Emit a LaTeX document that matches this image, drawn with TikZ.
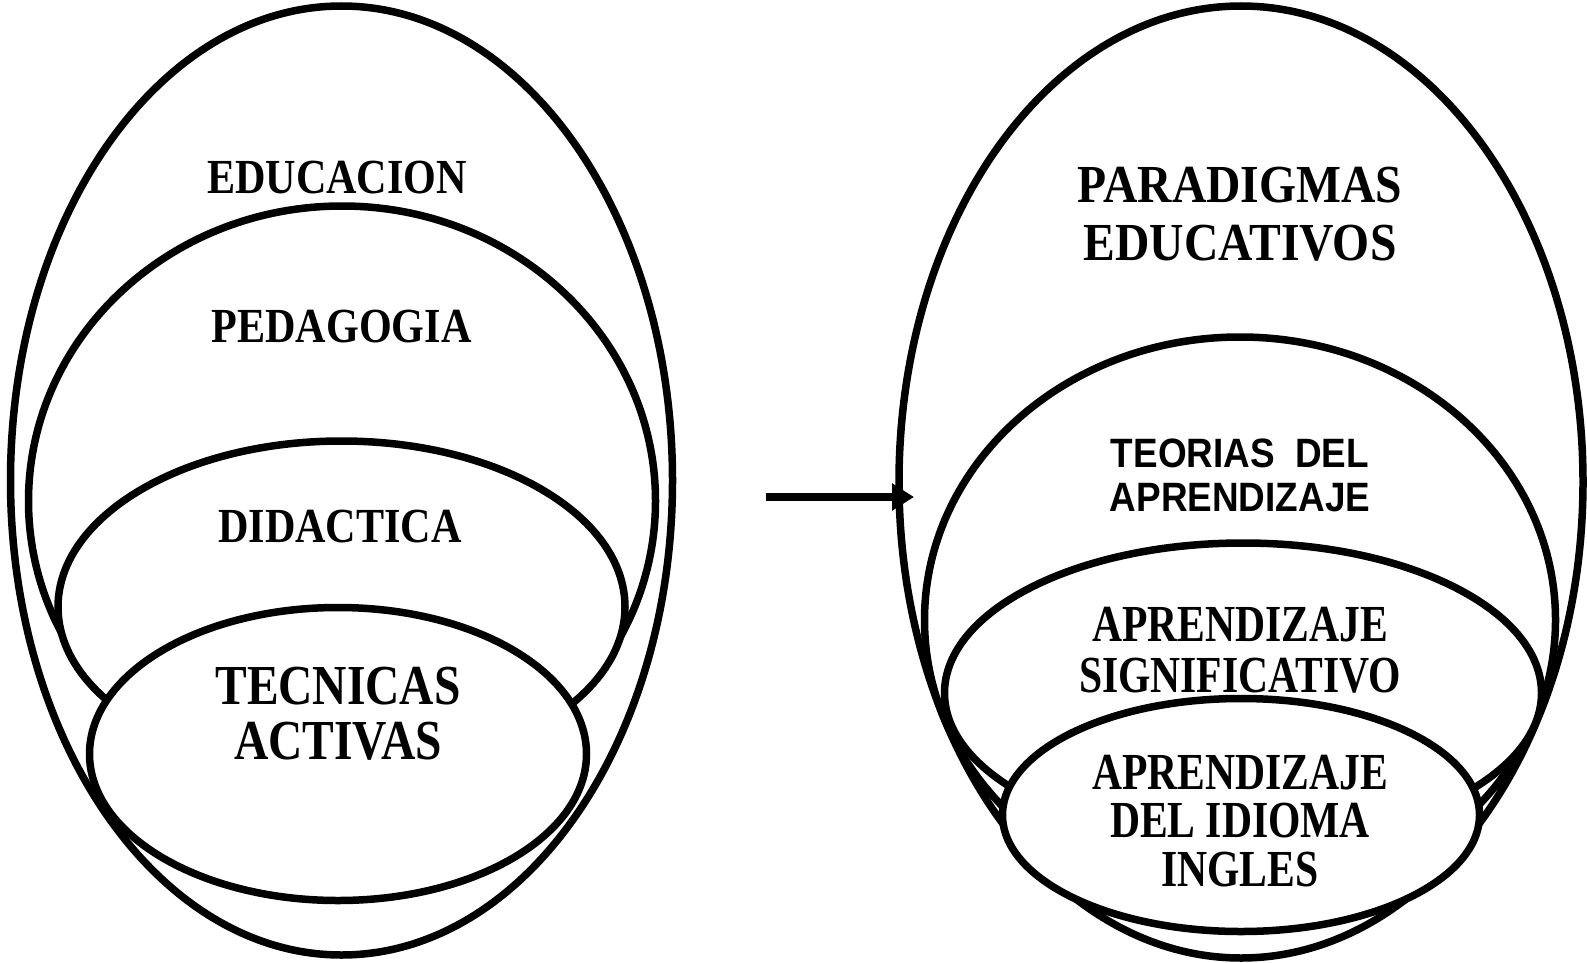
\documentclass[tikz,border=0pt]{standalone}
\usepackage{fontspec}
\setmainfont{Liberation Serif}
\newfontfamily\serifA[FakeStretch=0.86]{Liberation Serif}
\newfontfamily\serifB[FakeStretch=0.84]{Liberation Serif}
\newfontfamily\serifC[FakeStretch=0.89]{Liberation Serif}
\newfontfamily\serifD[FakeStretch=0.80]{Liberation Serif}
\newfontfamily\sansA[FakeStretch=0.90]{Liberation Sans}
\usetikzlibrary{shapes.geometric,arrows.meta}
\tikzset{
  oval/.style={ellipse, draw=black, fill=white, line width=7.5pt, inner sep=0pt},
  lbl/.style={align=center, inner sep=0pt, text=black}
}
\begin{document}
\begin{tikzpicture}[x=1pt,y=-1pt]
\useasboundingbox (0,0) rectangle (1587,963);
% left
\node[oval, minimum width=662pt, minimum height=949pt] (outerL) at (341.5,480.5) {};
\node[oval, minimum width=627pt, minimum height=590pt] (pedL) at (342,501) {};
\node[oval, minimum width=567pt, minimum height=332pt] (didL) at (341.5,607) {};
\node[oval, minimum width=497pt, minimum height=293pt] (tecL) at (338,754) {};
\node[lbl, font=\serifA\bfseries\fontsize{49}{58}\selectfont] (tEdu) at (337,178) {EDUCACION};
\node[lbl, font=\serifA\bfseries\fontsize{49}{58}\selectfont] (tPed) at (341.5,327) {PEDAGOGIA};
\node[lbl, font=\serifA\bfseries\fontsize{49}{58}\selectfont] (tDid) at (340,527) {DIDACTICA};
\node[lbl, font=\serifB\bfseries\fontsize{56.5}{55}\selectfont] (tTec) at (338,713.5) {TECNICAS\\ACTIVAS};
% right
\node[oval, minimum width=684pt, minimum height=952pt] (outerR) at (1241,482) {};
\node[oval, minimum width=631pt, minimum height=566pt] (teoR) at (1240,620) {};
\node[oval, minimum width=597pt, minimum height=300pt] (sigR) at (1243,693) {};
\node[oval, minimum width=477pt, minimum height=233pt] (idiR) at (1241,815) {};
\node[lbl, font=\serifC\bfseries\fontsize{53.5}{58}\selectfont] (tPar) at (1240,214) {PARADIGMAS\\EDUCATIVOS};
\node[lbl, font=\sansA\bfseries\fontsize{41}{44}\selectfont] (tTeo) at (1240,475) {TEORIAS\ \ DEL\\APRENDIZAJE};
\node[lbl, font=\serifD\bfseries\fontsize{52}{51}\selectfont] (tSig) at (1240,650.5) {APRENDIZAJE\\SIGNIFICATIVO};
\node[lbl, font=\serifD\bfseries\fontsize{52}{48.5}\selectfont] (tIdi) at (1240,821) {APRENDIZAJE\\DEL IDIOMA\\INGLES};
% arrow
\coordinate (aStart) at (766,497);
\coordinate (aEnd) at (914,497);
\draw[line width=7.5pt, -{Triangle[length=22pt,width=26pt]}] (aStart) -- (aEnd);
\end{tikzpicture}
\end{document}
